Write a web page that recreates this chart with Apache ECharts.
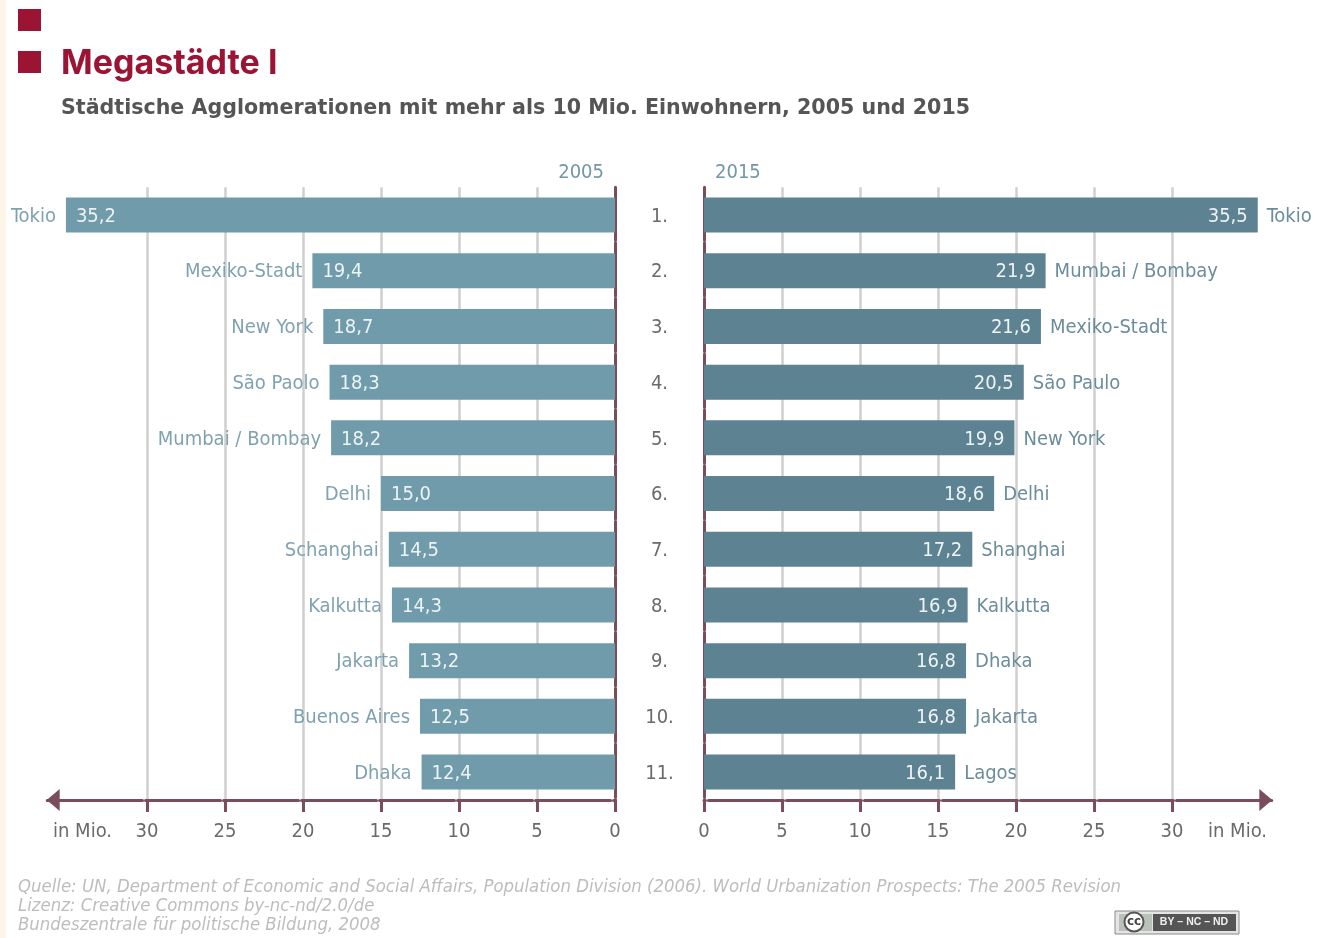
<!DOCTYPE html>
<html lang="de">
<head>
<meta charset="utf-8">
<title>Megastädte I</title>
<script src="https://cdn.jsdelivr.net/npm/echarts@6/dist/echarts.min.js"></script>
<style>
html,body{margin:0;padding:0;background:#fff}
#chart{width:1328px;height:938px}
</style>
</head>
<body>
<div id="chart"></div>
<script>
// Rangfolge der Megastädte, 2005 und 2015 (Einwohner in Mio.)
const ranks = ['1.','2.','3.','4.','5.','6.','7.','8.','9.','10.','11.'];
const cities2005 = ['Tokio','Mexiko-Stadt','New York','São Paolo','Mumbai / Bombay','Delhi','Schanghai','Kalkutta','Jakarta','Buenos Aires','Dhaka'];
const values2005 = [35.2,19.4,18.7,18.3,18.2,15.0,14.5,14.3,13.2,12.5,12.4];
const cities2015 = ['Tokio','Mumbai / Bombay','Mexiko-Stadt','São Paulo','New York','Delhi','Shanghai','Kalkutta','Dhaka','Jakarta','Lagos'];
const values2015 = [35.5,21.9,21.6,20.5,19.9,18.6,17.2,16.9,16.8,16.8,16.1];
const axisTicks = [0,5,10,15,20,25,30];
const axisMax = 36.4;

const FONT = '"DejaVu Sans Condensed", "DejaVu Sans", sans-serif';
const COL_AXIS = '#7a4d5b';
const COL_GRID = '#cfcfcf';
const COL_2005 = '#6f9bab';
const COL_2015 = '#5d8292';
const COL_RED = '#9b1433';
const decimal = v => v.toFixed(1).replace('.', ',');

// Achsenlinie mit kleiner Lücke neben jedem Teilstrich, von der Null nach außen gezählt
const tickDash = [1.5,3,75,3,75,3,75,3,75,3,75,3,75,3,120,0];

function valueAxis(gridIndex, inverse) {
  return {
    type: 'value', gridIndex, inverse, min: 0, max: axisMax, interval: 5, position: 'bottom',
    axisLine: { show: true, onZero: false,
      symbol: inverse ? ['triangle','none'] : ['none','triangle'],
      symbolSize: [22,13], symbolOffset: inverse ? [6,0] : [0,-6],
      lineStyle: { color: COL_AXIS, width: 3, type: tickDash } },
    axisTick: { show: true, length: 12, customValues: axisTicks, lineStyle: { color: COL_AXIS, width: 3 } },
    axisLabel: { customValues: axisTicks, margin: 22, color: '#6a6a6a', fontFamily: FONT, fontSize: 20 },
    splitLine: { show: true, lineStyle: { color: COL_GRID, width: 2.5 } }
  };
}

function categoryAxis(gridIndex, position, showLabels) {
  return {
    type: 'category', gridIndex, inverse: true, position, data: ranks,
    axisLine: { show: true, lineStyle: { color: COL_AXIS, width: 3, type: [53,2.7] } },
    axisTick: { show: false },
    axisLabel: { show: showLabels, margin: 44.5, align: 'center', formatter: v => '{r|' + v + '}',
      rich: { r: { padding: [3,0,0,0], color: '#6a6a6a', fontFamily: FONT, fontSize: 20 } } }
  };
}

function barSeries(index, values, color, valuePos) {
  return {
    type: 'bar', xAxisIndex: index, yAxisIndex: index, data: values, barWidth: 35, z: 3,
    itemStyle: { color },
    label: { show: true, position: valuePos, distance: 10, offset: [0,1.5], color: '#eef3f5', fontFamily: FONT, fontSize: 20,
      formatter: p => decimal(p.value) }
  };
}

function nameSeries(index, values, names, pos, color, gap) {
  return {
    type: 'bar', xAxisIndex: index, yAxisIndex: index, data: values, barWidth: 35, barGap: '-100%', z: 4,
    itemStyle: { color: 'transparent' }, silent: true,
    label: { show: true, position: pos, distance: gap, offset: [0,1.5], color, fontFamily: FONT, fontSize: 20,
      formatter: p => names[p.dataIndex] }
  };
}

const footer = [
  'Quelle: UN, Department of Economic and Social Affairs, Population Division (2006). World Urbanization Prospects: The 2005 Revision',
  'Lizenz: Creative Commons by-nc-nd/2.0/de',
  'Bundeszentrale für politische Bildung, 2008'
];

function txt(x, y, text, style) {
  return { type: 'text', x, y, silent: true,
    style: Object.assign({ text, fontFamily: FONT, fontSize: 20, fill: '#6a6a6a', verticalAlign: 'middle' }, style) };
}

const graphics = [
  { type: 'rect', shape: { x: 0, y: 0, width: 6, height: 938 }, style: { fill: '#fef5e9' }, silent: true },
  { type: 'rect', shape: { x: 18, y: 9, width: 23, height: 22 }, style: { fill: COL_RED }, silent: true },
  { type: 'rect', shape: { x: 18, y: 51, width: 23, height: 22 }, style: { fill: COL_RED }, silent: true },
  txt(61, 63.5, 'Megastädte I', { fontFamily: 'Inter, "Liberation Sans", sans-serif', fontWeight: 'bold', fontSize: 34, fill: COL_RED }),
  txt(61, 109, 'Städtische Agglomerationen mit mehr als 10 Mio. Einwohnern, 2005 und 2015', { fontFamily: '"DejaVu Sans", sans-serif', fontWeight: 'bold', fontSize: 20.6, fill: '#555555' }),
  txt(604, 173, '2005', { align: 'right', fill: '#7397a6' }),
  txt(715, 173, '2015', { fill: '#7397a6' }),
  txt(53, 832, 'in Mio.'),
  txt(1208, 832, 'in Mio.'),
  ...footer.map((line, i) => txt(18, 887 + i * 19, line, { fontStyle: 'italic', fontSize: 18.4, fill: '#bdbdbd' })),
  // CC-Lizenzplakette
  { type: 'rect', shape: { x: 1115, y: 911, width: 124, height: 23 }, style: { fill: '#e4e4e4', stroke: '#8a8a8a', lineWidth: 1 }, silent: true },
  { type: 'rect', shape: { x: 1119, y: 914, width: 33, height: 17 }, style: { fill: '#b9c2b8' }, silent: true },
  { type: 'rect', shape: { x: 1153, y: 914, width: 83, height: 17 }, style: { fill: '#555555' }, silent: true },
  { type: 'circle', shape: { cx: 1134, cy: 922, r: 9.5 }, style: { fill: '#ffffff', stroke: '#555555', lineWidth: 2 }, silent: true },
  txt(1134, 922, 'cc', { align: 'center', fontFamily: '"DejaVu Sans", sans-serif', fontWeight: 'bold', fontSize: 12, fill: '#444444' }),
  txt(1194, 922, 'BY – NC – ND', { align: 'center', fontFamily: '"Liberation Sans", sans-serif', fontWeight: 'bold', fontSize: 10.5, fill: '#f0f0f0' })
];

const chart = echarts.init(document.getElementById('chart'), null, { renderer: 'canvas' });
chart.setOption({
  animation: false,
  backgroundColor: '#ffffff',
  grid: [
    { left: 47.2, width: 567.8, top: 187.2, height: 612.7 },
    { left: 704, width: 567.8, top: 187.2, height: 612.7 }
  ],
  xAxis: [ valueAxis(0, true), valueAxis(1, false) ],
  yAxis: [ categoryAxis(0, 'right', true), categoryAxis(1, 'left', false) ],
  series: [
    barSeries(0, values2005, COL_2005, 'insideLeft'),
    nameSeries(0, values2005, cities2005, 'left', '#7fa2b0', 10),
    barSeries(1, values2015, COL_2015, 'insideRight'),
    nameSeries(1, values2015, cities2015, 'right', '#6a8c9b', 9)
  ],
  graphic: { elements: graphics }
});
</script>
</body>
</html>
